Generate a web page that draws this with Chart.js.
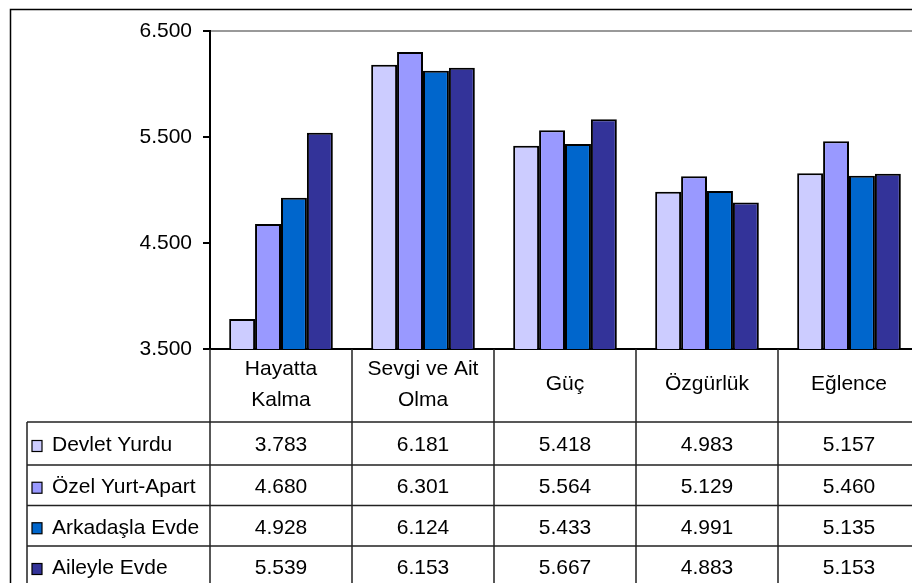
<!DOCTYPE html>
<html>
<head>
<meta charset="utf-8">
<script src="https://cdn.jsdelivr.net/npm/chart.js@4"></script>
<style>
  body { margin: 0; overflow: hidden; background: #fff; }
  #box { position: absolute; left: 0; top: 0; width: 940px; height: 600px; }
</style>
</head>
<body>
<div id="box"><canvas id="chart"></canvas></div>
<script>
/* ---------- DATA ---------- */
const categories = [["Hayatta", "Kalma"], ["Sevgi ve Ait", "Olma"], "Güç", "Özgürlük", "Eğlence"];
const seriesNames = ["Devlet Yurdu", "Özel Yurt-Apart", "Arkadaşla Evde", "Aileyle Evde"];
const devletYurdu = [3.783, 6.181, 5.418, 4.983, 5.157];
const ozelYurt = [4.680, 6.301, 5.564, 5.129, 5.460];
const arkadaslaEvde = [4.928, 6.124, 5.433, 4.991, 5.135];
const aileyleEvde = [5.539, 6.153, 5.667, 4.883, 5.153];
const yTicks = [3.5, 4.5, 5.5, 6.5];

const colors = ["#CCCCFF", "#9999FF", "#0066CC", "#333399"];
const FONT = "'Liberation Sans', Arial, sans-serif";

/* ---------- TABLE + BORDER ---------- */
const rowLines = [422, 465, 505.5, 546, 587];

const tablePlugin = {
    id: "dataTable",
    afterDraw(chart) {
        const ctx = chart.ctx;
        const x = chart.scales.x;
        const area = chart.chartArea;
        const H = chart.height;
        const colW = (area.right - area.left) / categories.length;
        const data = chart.data.datasets;

        ctx.save();
        // outer chart border
        ctx.strokeStyle = "#000";
        ctx.lineWidth = 1.5;
        ctx.strokeRect(10.5, 9.5, chart.width + 20, H + 20);

        // table grid
        ctx.strokeStyle = "#222";
        ctx.lineWidth = 1.5;
        ctx.beginPath();
        ctx.moveTo(area.left, area.bottom);
        ctx.lineTo(area.left, H);
        for (let i = 1; i <= categories.length; i++) {
            const bx = area.left + i * colW;
            ctx.moveTo(bx, area.bottom);
            ctx.lineTo(bx, H);
        }
        ctx.moveTo(27, rowLines[0]);
        ctx.lineTo(27, H);
        rowLines.forEach(y => {
            ctx.moveTo(27, y);
            ctx.lineTo(area.right, y);
        });
        ctx.stroke();

        // rows
        ctx.font = "21px " + FONT;
        ctx.textBaseline = "middle";
        data.forEach((ds, r) => {
            const cy = (rowLines[r] + rowLines[r + 1]) / 2 + 2;
            ctx.fillStyle = colors[r];
            ctx.fillRect(32, cy - 5, 10, 11);
            ctx.strokeStyle = "#000";
            ctx.lineWidth = 1.2;
            ctx.strokeRect(32, cy - 5, 10, 11);
            ctx.fillStyle = "#000";
            ctx.textAlign = "left";
            ctx.fillText(ds.label, 52, cy);
            ctx.textAlign = "center";
            ds.data.forEach((v, c) => {
                ctx.fillText(v.toFixed(3), x.getPixelForValue(c), cy);
            });
        });
        ctx.restore();
    }
};

/* ---------- CHART ---------- */
const seriesValues = [devletYurdu, ozelYurt, arkadaslaEvde, aileyleEvde];

Chart.defaults.font.family = FONT;
Chart.defaults.color = "#000";

new Chart(document.getElementById("chart"), {
    type: "bar",
    data: {
        labels: categories,
        datasets: seriesNames.map((name, i) => ({
            label: name,
            data: seriesValues[i],
            backgroundColor: colors[i],
            borderColor: "#000",
            borderWidth: 2,
            borderSkipped: false,
            categoryPercentage: 0.73,
            barPercentage: 1
        }))
    },
    options: {
        responsive: true,
        maintainAspectRatio: false,
        animation: false,
        layout: { padding: { left: 0, top: 31, right: 20, bottom: 0 } },
        plugins: {
            legend: { display: false },
            tooltip: { enabled: false }
        },
        scales: {
            x: {
                grid: { display: false },
                border: { display: true, color: "#000", width: 2 },
                ticks: {
                    font: { size: 21, lineHeight: 1.48 },
                    color: "#000",
                    padding: 12,
                    maxRotation: 0,
                    autoSkip: false,
                    crossAlign: "center"
                },
                afterFit(scale) { scale.height = 251; }
            },
            y: {
                min: 3.5,
                max: 6.5,
                afterBuildTicks(scale) { scale.ticks = yTicks.map(v => ({ value: v })); },
                grid: {
                    drawOnChartArea: true,
                    color: c => (c.tick && c.tick.value === 6.5) ? "#999" : "rgba(0,0,0,0)",
                    tickColor: "#000",
                    tickLength: 7,
                    lineWidth: 2
                },
                border: { display: true, color: "#000", width: 2 },
                ticks: {
                    font: { size: 21 },
                    color: "#000",
                    padding: 11,
                    callback: v => v.toFixed(3)
                },
                afterFit(scale) { scale.width = 210; }
            }
        }
    },
    plugins: [tablePlugin]
});
</script>
</body>
</html>
